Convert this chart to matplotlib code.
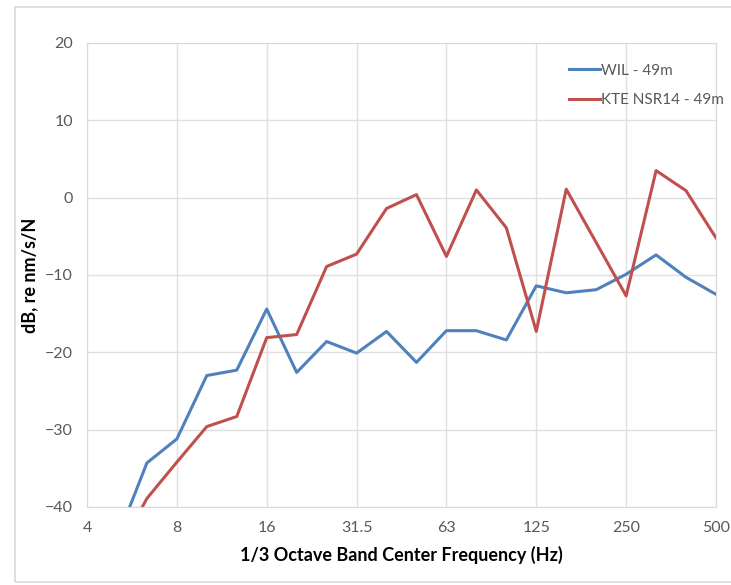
import numpy as np
import matplotlib
matplotlib.use('Agg')
from matplotlib import pyplot as plt
from matplotlib.patches import Rectangle

# 1/3 octave bands
bands = ['4', '5', '6.3', '8', '10', '12.5', '16', '20', '25', '31.5', '40',
         '50', '63', '80', '100', '125', '160', '200', '250', '315', '400', '500']
tick_labels = ['4', '8', '16', '31.5', '63', '125', '250', '500']

wil_49m = [np.nan, -44.2, -34.3, -31.2, -23.0, -22.3, -14.4, -22.6, -18.6, -20.1, -17.3,
           -21.3, -17.2, -17.2, -18.4, -11.4, -12.3, -11.9, -9.9, -7.4, -10.3, -12.5]
kte_49m = [np.nan, -46.0, -38.9, -34.2, -29.6, -28.3, -18.1, -17.7, -8.9, -7.3, -1.4,
           0.4, -7.6, 1.0, -3.9, -17.3, 1.1, -5.8, -12.7, 3.5, 0.9, -5.2]

plt.rcParams['font.family'] = ['Lato', 'DejaVu Sans']

fig = plt.figure(figsize=(7.31, 5.85), dpi=100)
ax = fig.add_axes([87 / 731, 1 - 507 / 585, (716 - 87) / 731, (507 - 43) / 585])

x = np.arange(len(bands))
ax.plot(x, wil_49m, color='#4F81BD', lw=2.2, label='WIL - 49m')
ax.plot(x, kte_49m, color='#C0504D', lw=2.2, label='KTE NSR14 - 49m')

ax.set_xlim(0, len(bands) - 1)
ax.set_ylim(-40, 20)
ax.set_xticks(x[::3])
ax.set_xticklabels(tick_labels)
ax.set_yticks(np.arange(-40, 21, 10))
ax.grid(True, color='#e0e0e0', lw=1)
ax.set_axisbelow(True)
for s in ax.spines.values():
    s.set_color('#d9d9d9')
ax.tick_params(length=0, labelsize=11.5, colors='#595959', pad=10)

ax.set_xlabel('1/3 Octave Band Center Frequency (Hz)', fontsize=13,
              fontweight='bold', color='black', labelpad=8)
ax.set_ylabel('dB, re nm/s/N', fontsize=13, fontweight='bold', color='black', labelpad=5)

ax.legend(loc='upper right', bbox_to_anchor=(1.035, 0.985), frameon=False, fontsize=11,
          handlelength=2.0, handletextpad=0.1, labelspacing=1.0, labelcolor='#595959')

fig.patches.append(Rectangle((15 / 731, 3 / 585), 1.0, 1 - 10 / 585,
                             transform=fig.transFigure, fill=False,
                             edgecolor='#d9d9d9', lw=1.2))

fig.savefig('out.png', dpi=100)
